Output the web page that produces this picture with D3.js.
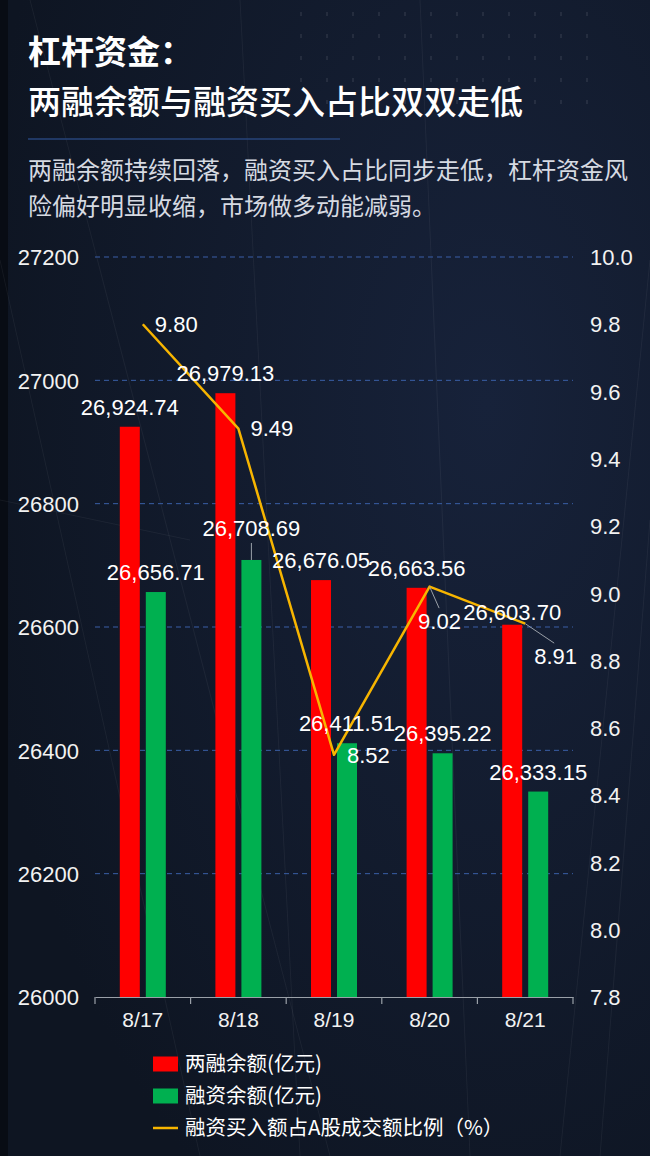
<!DOCTYPE html>
<html>
<head>
<meta charset="utf-8">
<script src="https://cdn.jsdelivr.net/npm/d3@7"></script>
<style>
  html, body { margin: 0; padding: 0; background: #0f1726; }
  svg { display: block; }
  text { font-family: "Liberation Sans", Arial, "Noto Sans CJK SC", sans-serif; }
  .cjk { font-family: "Noto Sans CJK SC", "Noto Sans", sans-serif; }
</style>
</head>
<body>
<div id="chart"></div>
<script>
// data
const dates = ["8/17", "8/18", "8/19", "8/20", "8/21"];
const totalBalance = [26924.74, 26979.13, 26676.05, 26663.56, 26603.70];     // 两融余额(亿元)
const financingBalance = [26656.71, 26708.69, 26411.51, 26395.22, 26333.15]; // 融资余额(亿元)
const buyRatio = [9.80, 9.49, 8.52, 9.02, 8.91];                             // 融资买入额占A股成交额比例(%)
const leftTicks = [26000, 26200, 26400, 26600, 26800, 27000, 27200];
const rightTicks = [7.8, 8.0, 8.2, 8.4, 8.6, 8.8, 9.0, 9.2, 9.4, 9.6, 9.8, 10.0];
const seriesNames = ["两融余额(亿元)", "融资余额(亿元)", "融资买入额占A股成交额比例（%）"];

const W = 650, H = 1156;
const margin = {top: 257, right: 77, bottom: 159, left: 95};
const numFont = "Liberation Sans, Arial, sans-serif";

const svg = d3.select("#chart").append("svg")
  .attr("width", W).attr("height", H);

// background
const defs = svg.append("defs");
const bg = defs.append("radialGradient").attr("id", "bg")
  .attr("cx", "75%").attr("cy", "35%").attr("r", "80%");
bg.append("stop").attr("offset", "0%").attr("stop-color", "#17223a");
bg.append("stop").attr("offset", "100%").attr("stop-color", "#0e1522");
svg.append("rect").attr("width", W).attr("height", H).attr("fill", "url(#bg)");
svg.append("rect").attr("width", 8).attr("height", H).attr("fill", "#080c14");

// faint decorative streaks
const deco = svg.append("g").attr("stroke", "#ffffff").attr("stroke-opacity", 0.05).attr("stroke-width", 1);
[[0, 260, 200, 1156], [30, 0, 330, 1156], [240, 0, 300, 1156], [420, 0, 470, 1156],
 [650, 260, 560, 1156], [650, 520, 600, 1156], [0, 500, 190, 540]].forEach(l => {
  deco.append("line").attr("x1", l[0]).attr("y1", l[1]).attr("x2", l[2]).attr("y2", l[3]);
});
const dots = svg.append("g").attr("fill", "#ffffff").attr("fill-opacity", 0.08);
d3.range(12).forEach(i => {
  d3.range(5).forEach(j => {
    dots.append("rect").attr("x", 300 + i * 26).attr("y", 12 + j * 22).attr("width", 2).attr("height", 4);
  });
});

// title
svg.append("text").attr("class", "cjk")
  .attr("x", 28).attr("y", 64)
  .attr("font-size", 33).attr("font-weight", "bold").attr("fill", "#ffffff")
  .text("杠杆资金：");
svg.append("text").attr("class", "cjk")
  .attr("x", 28).attr("y", 114)
  .attr("font-size", 33).attr("font-weight", 500).attr("fill", "#ffffff")
  .text("两融余额与融资买入占比双双走低");
svg.append("line")
  .attr("x1", 28).attr("x2", 340).attr("y1", 139).attr("y2", 139)
  .attr("stroke", "#27457a").attr("stroke-width", 1.5);
const sub = svg.append("text").attr("class", "cjk")
  .attr("font-size", 24).attr("fill", "#d6dae2");
sub.append("tspan").attr("x", 28).attr("y", 179)
  .text("两融余额持续回落，融资买入占比同步走低，杠杆资金风");
sub.append("tspan").attr("x", 28).attr("y", 215)
  .text("险偏好明显收缩，市场做多动能减弱。");

// scales
const x = d3.scaleBand().domain(dates).range([margin.left, W - margin.right]);
const x1 = d3.scaleBand().domain([0, 1]).range([0, 46]).paddingInner(0.2308);
const yL = d3.scaleLinear().domain([26000, 27200]).range([H - margin.bottom, margin.top]);
const yR = d3.scaleLinear().domain([7.8, 10.0]).range([H - margin.bottom, margin.top]);
const cx = d => x(d) + x.bandwidth() / 2;

// grid
svg.append("g").selectAll("line")
  .data(leftTicks.slice(1))
  .join("line")
  .attr("x1", margin.left).attr("x2", W - margin.right)
  .attr("y1", d => yL(d)).attr("y2", d => yL(d))
  .attr("stroke", "#3a5fa8").attr("stroke-width", 1).attr("stroke-dasharray", "5,4");

// left axis
const gL = svg.append("g")
  .attr("transform", `translate(${margin.left - 13},0)`)
  .call(d3.axisLeft(yL).tickValues(leftTicks).tickSize(0).tickFormat(d3.format("d")));
gL.select(".domain").remove();
gL.selectAll("text").attr("fill", "#f2f2f2").attr("font-size", 22)
  .attr("font-family", numFont).attr("dy", "0.35em");

// right axis
const gR = svg.append("g")
  .attr("transform", `translate(${W - margin.right + 14},0)`)
  .call(d3.axisRight(yR).tickValues(rightTicks).tickSize(0).tickFormat(d3.format(".1f")));
gR.select(".domain").remove();
gR.selectAll("text").attr("fill", "#f2f2f2").attr("font-size", 22)
  .attr("font-family", numFont).attr("dy", "0.35em");

// x axis
const gX = svg.append("g")
  .attr("transform", `translate(0,${H - margin.bottom})`)
  .call(d3.axisBottom(x).tickSize(0).tickPadding(15));
gX.select(".domain").attr("stroke", "#9aa0a8").attr("stroke-width", 1.2);
gX.selectAll("text").attr("fill", "#f2f2f2").attr("font-size", 21)
  .attr("font-family", numFont);
const bounds = dates.map(d => x(d)).concat([W - margin.right]);
gX.selectAll(".sep").data(bounds).join("line")
  .attr("class", "sep")
  .attr("x1", d => d).attr("x2", d => d).attr("y1", 0).attr("y2", 7)
  .attr("stroke", "#9aa0a8").attr("stroke-width", 1.2);

// bars
const series = [
  {values: totalBalance, color: "#ff0000"},
  {values: financingBalance, color: "#00b050"}
];
const fmt = d3.format(",.2f");
// label layout tweaks (extra lift, leader line when lifted), per series/date
const barLabelLift = [[0, 0, 0, 0, -7], [0, 12, 0, 0, 0]];

series.forEach((s, si) => {
  const g = svg.append("g");
  g.selectAll("rect").data(s.values).join("rect")
    .attr("x", (d, i) => x(dates[i]) + x.bandwidth() / 2 - 23 + x1(si))
    .attr("y", d => yL(d))
    .attr("width", x1.bandwidth())
    .attr("height", d => yL(26000) - yL(d))
    .attr("fill", s.color);
});

// line
const line = d3.line().x((d, i) => cx(dates[i])).y(d => yR(d));
svg.append("path").datum(buyRatio)
  .attr("d", line)
  .attr("fill", "none")
  .attr("stroke", "#f7b500").attr("stroke-width", 2.5).attr("stroke-linejoin", "round");

// bar labels
series.forEach((s, si) => {
  const g = svg.append("g");
  s.values.forEach((v, i) => {
    const bx = x(dates[i]) + x.bandwidth() / 2 - 23 + x1(si) + x1.bandwidth() / 2;
    const lift = barLabelLift[si][i];
    if (lift > 0) {
      g.append("line")
        .attr("x1", bx).attr("x2", bx)
        .attr("y1", yL(v)).attr("y2", yL(v) - lift - 5)
        .attr("stroke", "#9aa0a8").attr("stroke-width", 1);
    }
    g.append("text")
      .attr("x", bx).attr("y", yL(v) - 12 - lift)
      .attr("text-anchor", "middle")
      .attr("font-size", 22).attr("fill", "#ffffff")
      .text(fmt(v));
  });
});

// line labels: [dx, dy] from the point; leader drawn when moved below
const lineLabelMove = [[12, 0], [12, 0], [13, 0], [-11.5, 35], [9, 32.5]];
const lineLeader = [null, null, null, [9.5, 21.5], [29, 19.5]];
const gLbl = svg.append("g");
buyRatio.forEach((v, i) => {
  const px = cx(dates[i]), py = yR(v);
  if (lineLeader[i]) {
    gLbl.append("line")
      .attr("x1", px).attr("y1", py)
      .attr("x2", px + lineLeader[i][0]).attr("y2", py + lineLeader[i][1])
      .attr("stroke", "#9aa0a8").attr("stroke-width", 1);
  }
  gLbl.append("text")
    .attr("x", px + lineLabelMove[i][0]).attr("y", py + lineLabelMove[i][1])
    .attr("dy", "0.35em")
    .attr("font-size", 22).attr("fill", "#ffffff")
    .text(v.toFixed(2));
});

// legend
const legend = svg.append("g").attr("transform", "translate(153,1064)");
seriesNames.forEach((name, i) => {
  const row = legend.append("g").attr("transform", `translate(0,${i * 32})`);
  if (i < 2) {
    row.append("rect").attr("x", 0).attr("y", -7.5).attr("width", 25).attr("height", 15)
      .attr("fill", series[i].color);
  } else {
    row.append("line").attr("x1", 0).attr("x2", 25).attr("y1", 0).attr("y2", 0)
      .attr("stroke", "#f7b500").attr("stroke-width", 2.5);
  }
  row.append("text").attr("class", "cjk")
    .attr("x", 32).attr("y", 0).attr("dy", "0.35em")
    .attr("font-size", 20.5).attr("fill", "#ffffff")
    .text(name);
});
</script>
</body>
</html>
